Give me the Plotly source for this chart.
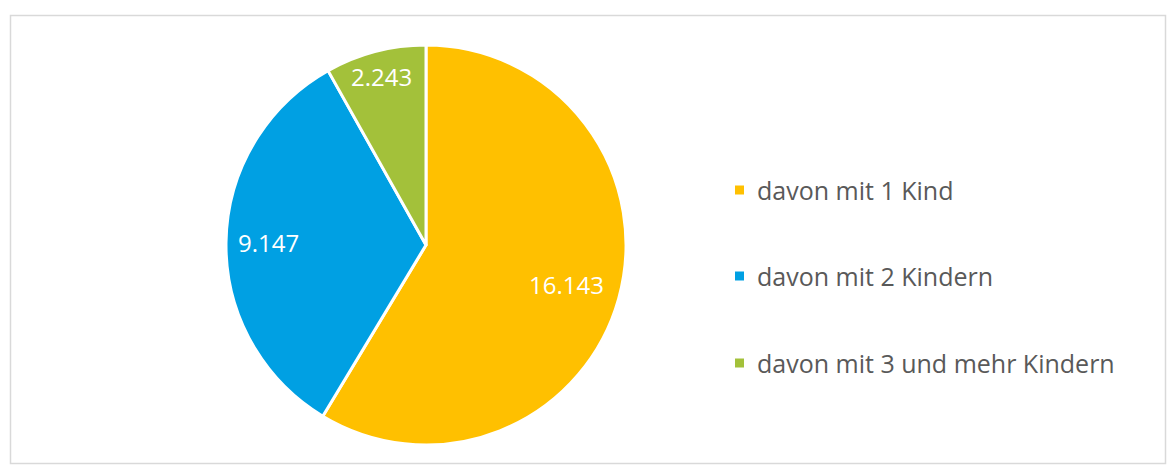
import math
import plotly.graph_objects as go

# Haushalte mit Kindern, aufgeteilt nach Kinderzahl
labels = ["davon mit 1 Kind", "davon mit 2 Kindern", "davon mit 3 und mehr Kindern"]
values = [16143, 9147, 2243]
colors = ["#FFC000", "#00A0E3", "#A3C13A"]

W, H = 1169, 468

# Pie geometry (pixels) and radial placement of the value labels
CX, CY, R = 426, 245, 200
label_radius = [0.73, 0.79, 0.87]

fig = go.Figure(
    go.Pie(
        labels=labels,
        values=values,
        sort=False,
        direction="clockwise",
        rotation=0,
        marker=dict(colors=colors, line=dict(color="white", width=3)),
        textinfo="none",
        domain=dict(x=[(CX - R) / W, (CX + R) / W], y=[(H - CY - R) / H, (H - CY + R) / H]),
        showlegend=False,
        hoverinfo="label+value",
    )
)

# Value labels at each slice's mid-angle (clockwise from 12 o'clock)
total = sum(values)
cum = 0
for v, f in zip(values, label_radius):
    mid = (cum + v / 2) / total * 2 * math.pi
    cum += v
    px = CX + f * R * math.sin(mid)
    py = CY - f * R * math.cos(mid)
    fig.add_annotation(
        x=px / W, y=(H - py) / H, xref="paper", yref="paper",
        text=f"{v:,}".replace(",", "."), showarrow=False,
        xanchor="center", yanchor="middle",
        font=dict(family="Open Sans", size=24, color="white"),
    )

# Legend: small colour squares with the category names
legend_y = [190, 276, 363]
for lab, col, y in zip(labels, colors, legend_y):
    fig.add_shape(
        type="rect", xref="paper", yref="paper",
        x0=735 / W, x1=744 / W, y0=(H - y - 4.5) / H, y1=(H - y + 4.5) / H,
        fillcolor=col, line=dict(width=0),
    )
    fig.add_annotation(
        x=755 / W, y=(H - y) / H, xref="paper", yref="paper",
        text=lab, showarrow=False, xanchor="left", yanchor="middle",
        font=dict(family="Open Sans", size=25, color="#595959"),
    )

# Chart frame
fig.add_shape(
    type="rect", xref="paper", yref="paper",
    x0=10.5 / W, x1=1165.5 / W, y0=(H - 463.5) / H, y1=(H - 15.5) / H,
    line=dict(color="#D9D9D9", width=1.5), fillcolor="rgba(0,0,0,0)",
)

fig.update_layout(
    width=W, height=H,
    margin=dict(l=0, r=0, t=0, b=0),
    paper_bgcolor="white",
    plot_bgcolor="white",
    separators=",.",
)

fig.write_html("out.html")
